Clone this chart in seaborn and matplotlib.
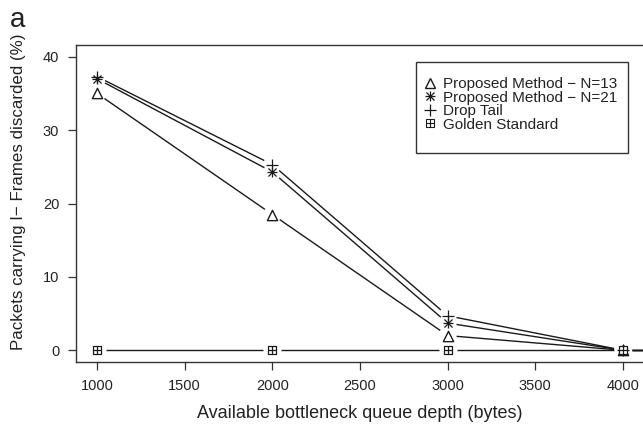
import numpy as np
import pandas as pd
import matplotlib
matplotlib.use("Agg")
import matplotlib.pyplot as plt
from matplotlib.lines import Line2D
from matplotlib.patches import Rectangle
from matplotlib.legend_handler import HandlerTuple
import seaborn as sns

# ---- data ----
queue_depth = [1000, 2000, 3000, 4000, 5000]
proposed_n13 = [35.0, 18.5, 2.0, 0.0, 0.0]
proposed_n21 = [37.0, 24.3, 3.7, 0.0, 0.0]
drop_tail = [37.3, 25.3, 4.7, 0.0, 0.0]
golden_standard = [0.0, 0.0, 0.0, 0.0, 0.0]
series_names = ["Proposed Method \u2212 N=13", "Proposed Method \u2212 N=21",
                "Drop Tail", "Golden Standard"]
x_ticks = [1000, 1500, 2000, 2500, 3000, 3500, 4000]
y_ticks = [0, 10, 20, 30, 40]

sns.set_theme(style="ticks")
plt.rcParams['font.family'] = ['Liberation Sans', 'DejaVu Sans']

W, H = 643, 426
fig = plt.figure(figsize=(W / 100, H / 100), dpi=100)
ax = fig.add_axes([76 / W, (H - 362) / H, (644 - 76) / W, (362 - 45) / H])
XLIM = (880, 4120)
YLIM = (-1.6, 41.6)

def fix_limits():
    ax.set_xlim(*XLIM)
    ax.set_ylim(*YLIM)

fix_limits()

df = pd.DataFrame({
    "x": queue_depth * 4,
    "y": proposed_n13 + proposed_n21 + drop_tail + golden_standard,
    "series": sum([[n] * len(queue_depth) for n in series_names], []),
})

ink = "#1a1a1a"
lw = 1.0

mk = dict(color=ink, linewidth=0.9, legend=False, ax=ax, zorder=3)
s13 = df[df.series == series_names[0]]
s21 = df[df.series == series_names[1]]
sdt = df[df.series == series_names[2]]
sgs = df[df.series == series_names[3]]
sns.scatterplot(data=s13, x="x", y="y", marker="^", s=55, facecolor="white",
                edgecolor=ink, linewidth=1.0, legend=False, ax=ax, zorder=3)
sns.scatterplot(data=s21, x="x", y="y", marker="+", s=55, **mk)
sns.scatterplot(data=s21, x="x", y="y", marker="x", s=34, **mk)
sns.scatterplot(data=sdt, x="x", y="y", marker="+", s=75, **mk)
sns.scatterplot(data=sgs, x="x", y="y", marker="s", s=28, facecolor="white",
                edgecolor=ink, linewidth=0.9, legend=False, ax=ax, zorder=3)
sns.scatterplot(data=sgs, x="x", y="y", marker="+", s=28, **mk)
fix_limits()

# gapped lines (R type="b")
def gapped(xs, ys, gap=9.0):
    tr = ax.transData
    inv = tr.inverted()
    pts = tr.transform(np.column_stack([xs, ys]))
    for p0, p1 in zip(pts[:-1], pts[1:]):
        d = p1 - p0
        L = np.hypot(*d)
        if L <= 2 * gap:
            continue
        u = d / L
        a = inv.transform(p0 + u * gap)
        b = inv.transform(p1 - u * gap)
        ax.plot([a[0], b[0]], [a[1], b[1]], color=ink, lw=lw,
                solid_capstyle="butt", zorder=2)

for name in series_names:
    sub = df[df.series == name]
    gapped(sub.x.values, sub.y.values)
fix_limits()

ax.set_xticks(x_ticks)
ax.set_yticks(y_ticks)
ax.set_xticklabels([str(t) for t in x_ticks])
ax.set_yticklabels([str(t) for t in y_ticks])
ax.tick_params(direction="out", length=6, width=0.9, color="#333333",
               labelsize=10.5, labelcolor="#222222")
ax.tick_params(axis="y", pad=6)
ax.tick_params(axis="x", pad=6)
for sp in ax.spines.values():
    sp.set_visible(True)
    sp.set_color("#333333")
    sp.set_linewidth(1.0)

ax.set_xlabel("Available bottleneck queue depth (bytes)", fontsize=13,
              color="#222222")
ax.xaxis.set_label_coords(0.5, -(413 - 362) / (362 - 45), transform=ax.transAxes)
ax.xaxis.label.set_va("center")
ax.set_ylabel("Packets carrying I\u2212 Frames discarded (%)", fontsize=12.2,
              color="#222222")
ax.yaxis.set_label_coords(-(76 - 19) / (644 - 76), (362 - 192) / (362 - 45),
                          transform=ax.transAxes)
ax.yaxis.label.set_va("center")

fig.text(10 / W, 1 - 27 / H, "a", fontsize=20, color="#222222")

# legend (frame drawn separately, R-style)
h13 = Line2D([], [], ls="none", marker="^", ms=6.5, mfc="white", mec=ink, mew=1.0)
h21 = (Line2D([], [], ls="none", marker="+", ms=7, mec=ink, mew=0.9),
       Line2D([], [], ls="none", marker="x", ms=5.5, mec=ink, mew=0.9))
hdt = Line2D([], [], ls="none", marker="+", ms=8, mec=ink, mew=0.9)
hgs = (Line2D([], [], ls="none", marker="s", ms=5.5, mfc="white", mec=ink, mew=0.8),
       Line2D([], [], ls="none", marker="+", ms=5.5, mec=ink, mew=0.8))
leg = fig.legend([h13, h21, hdt, hgs], series_names,
                 handler_map={tuple: HandlerTuple(ndivide=1)},
                 loc="upper left", bbox_to_anchor=(422 / W, 1 - 77 / H),
                 fontsize=11, frameon=False, labelspacing=-0.03,
                 handlelength=1.0, handletextpad=0.4, borderpad=0,
                 borderaxespad=0)
for t in leg.get_texts():
    t.set_color("#222222")
fig.add_artist(Rectangle((416 / W, 1 - 153 / H), (628 - 416) / W, (153 - 62) / H,
                         transform=fig.transFigure, fill=False,
                         edgecolor="#333333", linewidth=1.0))

fig.savefig("out.png", dpi=100)
